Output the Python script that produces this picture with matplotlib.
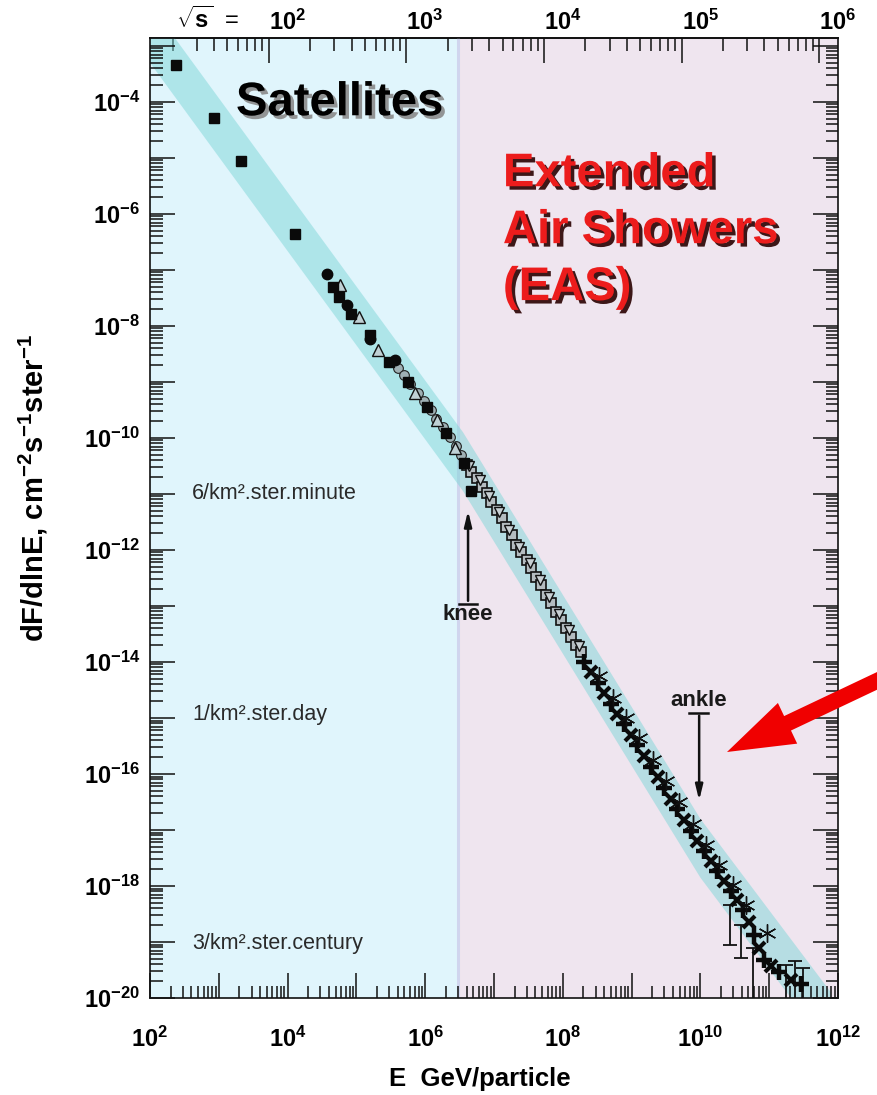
import numpy as np
import matplotlib
matplotlib.use("Agg")
import matplotlib.pyplot as plt
import matplotlib.patheffects as pe
from matplotlib.patches import FancyArrow
from matplotlib.ticker import LogLocator, FixedLocator, FuncFormatter, NullFormatter

plt.rcParams['font.family'] = ['Liberation Sans', 'DejaVu Sans']
plt.rcParams['mathtext.fontset'] = 'custom'
for k in ('rm', 'it', 'bf', 'sf'):
    plt.rcParams['mathtext.' + k] = 'Liberation Sans:bold'

PROTON_MASS = 0.938  # GeV, fixed-target sqrt(s) conversion
E_SPLIT = 3.05e6     # satellites / air-shower boundary

# labelled sqrt(s) decades on the top axis (GeV)
rs_ticks = [1e2, 1e3, 1e4, 1e5, 1e6]

# ---- shaded fit band (polygon corners) ----
band_E = [1e2, 3.55e6, 1e10, 7.9e11]
band_upper_F = [5.6e-3, 1.26e-10, 1.58e-17, 1.26e-20]
band_lower_F = [5.0e-4, 1.12e-11, 1.41e-18, 1.12e-21]

# ---- direct measurements ----
sat_sq_E = [238, 849, 2.1e3, 1.27e4, 4.5e4, 5.5e4, 8.3e4, 1.56e5, 3.0e5, 5.6e5, 1.08e6, 1.98e6, 3.7e6, 4.6e6]
sat_sq_F = [4.6e-4, 5.2e-5, 8.8e-6, 4.4e-7, 5.0e-8, 3.3e-8, 1.6e-8, 6.9e-9, 2.3e-9, 1.0e-9, 3.6e-10, 1.23e-10, 3.6e-11, 1.13e-11]

circ_E = [3.7e4, 7.2e4, 1.56e5, 3.7e5]
circ_F = [8.5e-8, 2.4e-8, 5.9e-9, 2.5e-9]

tri_E = [5.7e4, 1.08e5, 2.04e5, 7.0e5, 1.47e6, 2.7e6]
tri_F = [5.4e-8, 1.45e-8, 3.7e-9, 6.4e-10, 2.1e-10, 6.6e-11]

gcirc_E = [4.0e5, 4.9e5, 6.1e5, 7.8e5, 9.5e5, 1.2e6, 1.46e6, 1.79e6, 2.26e6, 2.76e6, 3.27e6]
gcirc_F = [1.8e-9, 1.33e-9, 9.2e-10, 6.4e-10, 4.6e-10, 3.2e-10, 2.2e-10, 1.57e-10, 1.04e-10, 7.2e-11, 5.0e-11]

# ---- air-shower arrays ----
osq_E = [4.0e6, 4.7e6, 5.6e6, 6.6e6, 7.8e6, 9.2e6, 1.09e7, 1.29e7, 1.52e7, 1.8e7, 2.1e7, 2.5e7,
         3.0e7, 3.5e7, 4.1e7, 4.9e7, 5.8e7, 6.8e7, 8.1e7, 9.5e7, 1.13e8, 1.33e8, 1.57e8, 1.86e8]
osq_F = [3.3e-11, 2.5e-11, 1.93e-11, 1.33e-11, 1.04e-11, 7.2e-12, 5.2e-12, 3.7e-12, 2.6e-12, 1.85e-12,
         1.23e-12, 9.2e-13, 6.6e-13, 4.8e-13, 3.3e-13, 2.4e-13, 1.57e-13, 1.13e-13, 7.8e-14, 5.6e-14,
         4.0e-14, 2.8e-14, 2.0e-14, 1.51e-14]

dtri_E = [4.4e6, 6.2e6, 8.6e6, 1.2e7, 1.68e7, 2.3e7, 3.3e7, 4.6e7, 6.4e7, 8.9e7, 1.25e8, 1.74e8]
dtri_F = [3.2e-11, 1.78e-11, 9.2e-12, 4.8e-12, 2.3e-12, 1.13e-12, 5.9e-13, 2.9e-13, 1.45e-13, 7.2e-14, 3.7e-14, 1.93e-14]

plus_E = [2.06e8, 3.2e8, 5.1e8, 7.8e8, 1.21e9, 1.93e9, 3.0e9, 4.6e9, 7.3e9, 1.14e10, 1.75e10,
          2.8e10, 4.2e10, 6.0e10, 8.4e10, 1.39e11, 2.9e11]
plus_F = [1.0e-14, 4.2e-15, 1.78e-15, 7.8e-16, 3.3e-16, 1.33e-16, 5.6e-17, 2.4e-17, 9.6e-18, 4.2e-18,
          1.85e-18, 8.1e-19, 3.7e-19, 1.33e-19, 4.8e-20, 2.9e-20, 1.78e-20]

cross_E = [2.6e8, 4.0e8, 6.2e8, 9.9e8, 1.53e9, 2.4e9, 3.8e9, 5.8e9, 9.0e9, 1.43e10, 2.2e10,
           3.4e10, 5.1e10, 7.1e10, 1.06e11, 2.1e11]
cross_F = [6.6e-15, 2.8e-15, 1.18e-15, 5.0e-16, 2.1e-16, 8.8e-17, 3.6e-17, 1.51e-17, 6.4e-18, 2.8e-18,
           1.23e-18, 5.6e-19, 2.3e-19, 7.8e-20, 3.7e-20, 2.1e-20]

star_E = [3.4e8, 5.4e8, 8.4e8, 1.29e9, 2.07e9, 3.2e9, 4.9e9, 7.9e9, 1.21e10, 1.87e10, 3.0e10, 4.6e10, 9.3e10]
star_F = [5.6e-15, 2.3e-15, 1.0e-15, 4.4e-16, 1.78e-16, 7.5e-17, 3.2e-17, 1.28e-17, 5.4e-18, 2.4e-18,
          1.04e-18, 4.6e-19, 1.45e-19]

# highest-energy points with their error bars
tail_E = [2.7e10, 3.9e10, 5.8e10, 1.76e11, 2.4e11, 3.1e11]
tail_F = [4.6e-19, 2.0e-19, 7.8e-20, 1.7e-20, 1.9e-20, 1.6e-20]
tail_lo = [8.9e-20, 5.2e-20, 1.0e-21, 1.0e-21, 1.0e-21, 1.0e-21]
tail_hi = [4.6e-19, 2.0e-19, 7.8e-20, 3.9e-20, 4.6e-20, 3.5e-20]

# integral rate reference levels (cm^-2 s^-1 sr^-1)
rate_labels = ['6/km².ster.minute', '1/km².ster.day', '3/km².ster.century']
rate_F = [1.0e-11, 1.16e-15, 9.5e-20]


def e_to_rs(e):
    return np.sqrt(2 * PROTON_MASS * np.clip(np.asarray(e, float), 1e-30, None))


def rs_to_e(r):
    return np.asarray(r, float) ** 2 / (2 * PROTON_MASS)


def even_decade(v, pos):
    n = int(round(np.log10(v)))
    return r'$10^{%d}$' % n if n % 2 == 0 else ''


def decade(v, pos):
    return r'$10^{%d}$' % int(round(np.log10(v)))


fig = plt.figure(figsize=(8.77, 10.95), dpi=100)
ax = fig.add_axes([0.1710, 0.0886, 0.7845, 0.8767])
ax.set_xscale('log')
ax.set_yscale('log')
ax.set_xlim(1e2, 1e12)
ax.set_ylim(1e-20, 1.38e-3)

# background regions
ax.axvspan(1e2, E_SPLIT, color='#E0F5FC', zorder=0)
ax.axvspan(E_SPLIT, 1e12, color='#EFE5EF', zorder=0)
ax.axvline(E_SPLIT, color='#D0D5EE', lw=2.2, zorder=0.5)

# fit band
ax.fill(band_E + band_E[::-1], band_upper_F + band_lower_F[::-1],
        color='#7ED6D8', alpha=0.5, lw=0, zorder=1)

ax.plot(gcirc_E, gcirc_F, 'o', ms=7, mfc='#9FB0B4', mec='#222222', mew=0.8, zorder=3)
ax.plot(tri_E, tri_F, '^', ms=8, mfc='#BFD0D4', mec='#111111', mew=1.0, zorder=3)
ax.plot(sat_sq_E, sat_sq_F, 's', ms=6.5, color='#0A0A0A', zorder=4)
ax.plot(circ_E, circ_F, 'o', ms=7.5, color='#0A0A0A', zorder=4)
ax.plot(osq_E, osq_F, 's', ms=6.5, mfc='#B4BCC0', mec='#111111', mew=1.2, zorder=3)
ax.plot(dtri_E, dtri_F, 'v', ms=6.5, mfc='#C8D0D4', mec='#111111', mew=1.0, zorder=3)
ax.errorbar(tail_E, tail_F,
            yerr=[np.subtract(tail_F, tail_lo), np.subtract(tail_hi, tail_F)],
            fmt='none', ecolor='#111111', elinewidth=1.3, capsize=5, capthick=1.3, zorder=3)
ax.plot(plus_E, plus_F, '+', ms=12, mew=3.2, color='#0A0A0A', zorder=4)
ax.plot(cross_E, cross_F, 'x', ms=9, mew=3.0, color='#0A0A0A', zorder=4)
ax.plot(star_E, star_F, marker=(6, 2, 0), ls='none', ms=13, mew=1.0, color='#111111', zorder=4)

# knee and ankle markers
knee_E, ankle_E = 4.2e6, 9.6e9
ax.annotate('', xy=(knee_E, 5.6e-12), xytext=(knee_E, 1.1e-13),
            arrowprops=dict(arrowstyle='-|>,head_length=0.9,head_width=0.22', color='#111111', lw=1.8))
ax.plot([3.06e6, 5.75e6], [1.1e-13, 1.1e-13], color='#111111', lw=1.8)
ax.text(knee_E, 6.9e-14, 'knee', ha='center', va='center', fontsize=16, fontweight='bold', color='#1a1a1a')
ax.annotate('', xy=(ankle_E, 3.0e-17), xytext=(ankle_E, 1.23e-15),
            arrowprops=dict(arrowstyle='-|>,head_length=0.9,head_width=0.22', color='#111111', lw=1.8))
ax.plot([6.9e9, 1.27e10], [1.23e-15, 1.23e-15], color='#111111', lw=1.8)
ax.text(ankle_E, 1.35e-15, 'ankle', ha='center', va='bottom', fontsize=16, fontweight='bold', color='#1a1a1a')

for lab, f in zip(rate_labels, rate_F):
    ax.text(4.1e2, f, lab, ha='left', va='center', fontsize=15.5, color='#2a2a2a')

ax.text(0.276, 0.932, 'Satellites', transform=ax.transAxes, ha='center', va='center',
        fontsize=34, fontweight='bold', color='black',
        path_effects=[pe.SimplePatchShadow(offset=(2.5, -2.5), shadow_rgbFace='#8a8a8a', alpha=0.9), pe.Normal()])
ax.text(0.513, 0.881, 'Extended\nAir Showers\n(EAS)', transform=ax.transAxes, ha='left', va='top',
        fontsize=34, fontweight='bold', color='#EC1C1C', linespacing=1.38,
        path_effects=[pe.SimplePatchShadow(offset=(2.5, -2.5), shadow_rgbFace='#2a0000', alpha=0.9), pe.Normal()])

# axes, ticks
ax.xaxis.set_major_locator(LogLocator(base=10, numticks=30))
ax.xaxis.set_minor_locator(LogLocator(base=10, subs=np.arange(2, 10), numticks=300))
ax.xaxis.set_major_formatter(FuncFormatter(even_decade))
ax.xaxis.set_minor_formatter(NullFormatter())
ax.yaxis.set_major_locator(LogLocator(base=10, numticks=40))
ax.yaxis.set_minor_locator(LogLocator(base=10, subs=np.arange(2, 10), numticks=400))
ax.yaxis.set_major_formatter(FuncFormatter(even_decade))
ax.yaxis.set_minor_formatter(NullFormatter())
ax.tick_params(which='both', direction='in', top=False, right=True, width=1.1, color='#111111')
ax.tick_params(which='major', length=18)
ax.tick_params(which='minor', length=9)
ax.tick_params(axis='x', which='major', pad=21, labelsize=17)
ax.tick_params(axis='y', which='major', pad=7, labelsize=17)
for s in ax.spines.values():
    s.set_linewidth(1.2)
    s.set_color('#111111')

sec = ax.secondary_xaxis('top', functions=(e_to_rs, rs_to_e))
sec.xaxis.set_major_locator(FixedLocator(rs_ticks))
sec.xaxis.set_minor_locator(LogLocator(base=10, subs=np.arange(2, 10), numticks=200))
sec.xaxis.set_major_formatter(FuncFormatter(decade))
sec.xaxis.set_minor_formatter(NullFormatter())
sec.tick_params(which='both', direction='in', width=1.1, color='#111111')
sec.tick_params(which='major', length=18, pad=2, labelsize=17)
sec.tick_params(which='minor', length=9)
for lbl in sec.xaxis.get_ticklabels():
    lbl.set_horizontalalignment('left')
sec.spines['top'].set_linewidth(1.2)
ax.text(0.038, 1.019, r'$\sqrt{s}$  =', transform=ax.transAxes, ha='left', va='center', fontsize=17)

ax.set_xlabel('E  GeV/particle', fontsize=18.5, fontweight='bold')
ax.xaxis.set_label_coords(0.48, -0.072)
ax.set_ylabel(r'dF/dlnE, cm$^{-2}$s$^{-1}$ster$^{-1}$', fontsize=21, fontweight='bold')
ax.yaxis.set_label_coords(-0.145, 0.531)

# pointer toward the ankle region
fig.add_artist(FancyArrow(9.0, 4.25, -1.73, -0.82, width=0.16, head_width=0.45, head_length=0.67,
                          length_includes_head=True, color='#F00000', lw=0,
                          transform=fig.dpi_scale_trans, clip_on=False))

fig.savefig('out.png', dpi=100)
